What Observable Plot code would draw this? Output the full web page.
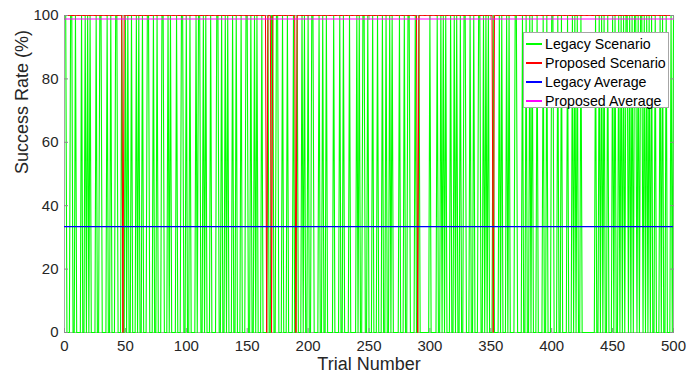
<!DOCTYPE html>
<html><head><meta charset="utf-8">
<script src="https://cdn.jsdelivr.net/npm/d3@7"></script>
<script src="https://cdn.jsdelivr.net/npm/@observablehq/plot@0.6"></script>
<style>
body{margin:0;background:#fff;}
#wrap{position:relative;width:697px;height:377px;font-family:"Liberation Sans",Arial,Helvetica,sans-serif;}
#legend{position:absolute;left:523px;top:32px;width:146px;height:76px;background:#fff;border:1px solid #a6a6a6;box-sizing:border-box;padding-top:1px;}
.row{display:flex;align-items:center;height:19px;font-size:14.2px;color:#000;white-space:nowrap;}
.sw{display:block;width:16px;height:2px;margin:0 3px 0 2px;flex:none;}
</style></head>
<body><div id="wrap"></div>
<script>
// ---- data ----
const legacyChunks = [
 "1000110010","0001001010","1000010011","0000100100","0110001001","0100100010","1001000110","0010010001","1000101000","0100011001",
 "0010000101","1001010001","0000110010","0101000100","1000100011","0010010100","0100001001","1001100010","0010000100","1000101001",
 "0011000010","0100100000","1000010010","0001000001","0100110010","0010001000","1001001010","0000100010","0110000100","1000000001",
 "0000010010","1010001001","0100100110","0010010001","1001010100","0100001010","0010100001","1000010010","0101000100","0010010001",
 "1000100100","0010001010","1001000000","0000010010","1010010001","0100101010","1101010110","1011010101","0100100010","1001000101"
];
const proposedFailures = [48, 166, 170, 190, 290, 352];
const legacyAverage = 33.4;
const proposedAverage = 98.9;
const xTicks = [0, 50, 100, 150, 200, 250, 300, 350, 400, 450, 500];
const yTicks = [0, 20, 40, 60, 80, 100];
const seriesNames = ["Legacy Scenario", "Proposed Scenario", "Legacy Average", "Proposed Average"];
const seriesColors = ["#00ff00", "#ff0000", "#0000ff", "#ff00ff"];

// ---- build tables ----
const bits = legacyChunks.join("");
const trials = d3.range(1, bits.length + 1);
const legacy = trials.map((t, i) => ({trial: t, rate: bits[i] === "1" ? 100 : 0}));
const proposed = trials.map(t => ({trial: t, rate: proposedFailures.includes(t) ? 0 : 100}));

const axisCommon = {stroke: "#8c8c8c", fill: "#262626", fontSize: 15, tickSize: -4};

const chart = Plot.plot({
  width: 697, height: 377,
  marginLeft: 64, marginRight: 24, marginTop: 15, marginBottom: 45,
  style: {fontFamily: "Liberation Sans, Arial, Helvetica, sans-serif", background: "#fff", overflow: "visible"},
  x: {domain: [0, 500]},
  y: {domain: [0, 100]},
  marks: [
    Plot.frame({stroke: "#a6a6a6"}),
    Plot.lineY(legacy, {x: "trial", y: "rate", stroke: seriesColors[0], strokeWidth: 1.1}),
    Plot.lineY(proposed, {x: "trial", y: "rate", stroke: seriesColors[1], strokeWidth: 1}),
    Plot.ruleY([legacyAverage], {stroke: seriesColors[2], strokeWidth: 1.1}),
    Plot.ruleY([proposedAverage], {stroke: seriesColors[3], strokeWidth: 1.1}),
    Plot.axisX(xTicks, {...axisCommon, anchor: "bottom", tickPadding: 12, label: null}),
    Plot.axisX(xTicks, {...axisCommon, anchor: "top", tickFormat: () => "", label: null}),
    Plot.axisY(yTicks, {...axisCommon, anchor: "left", tickPadding: 10, label: null}),
    Plot.axisY(yTicks, {...axisCommon, anchor: "right", tickFormat: () => "", label: null}),
    Plot.text(["Trial Number"], {frameAnchor: "bottom", dy: 37, fontSize: 18, fill: "#262626"}),
    Plot.text(["Success Rate (%)"], {frameAnchor: "left", dx: -42, rotate: -90, fontSize: 18, fill: "#262626"})
  ]
});
const wrap = document.getElementById("wrap");
wrap.appendChild(chart);

const legend = document.createElement("div");
legend.id = "legend";
seriesNames.forEach((n, i) => {
  const r = document.createElement("div");
  r.className = "row";
  const s = document.createElement("span");
  s.className = "sw";
  s.style.backgroundColor = seriesColors[i];
  const t = document.createElement("span");
  t.textContent = n;
  r.appendChild(s); r.appendChild(t);
  legend.appendChild(r);
});
wrap.appendChild(legend);
</script>
</body></html>
